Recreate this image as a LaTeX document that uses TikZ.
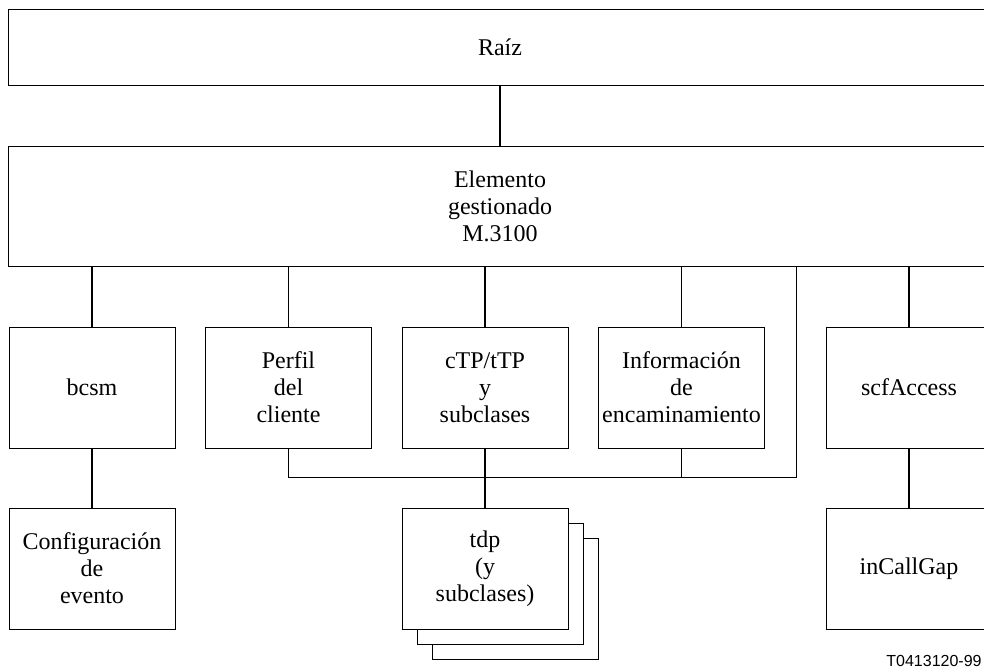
\documentclass[tikz,border=0pt]{standalone}
\usepackage{fontspec}
\setmainfont{Liberation Serif}
\newfontfamily\etiqfont{Liberation Sans}
\begin{document}
\begin{tikzpicture}[x=0.5pt, y=-0.5pt,
    caja/.style={draw, line width=0.5pt, fill=white, minimum width=83pt, minimum height=60.5pt,
                 inner sep=0pt, align=center, font=\fontsize{12}{13.5}\selectfont},
    ancha/.style={caja, minimum width=492pt},
    enlace/.style={line width=0.9pt},
    bus/.style={line width=0.5pt}]
  \useasboundingbox (0,0) rectangle (984,671);
  % cajas superiores
  \node[ancha, minimum height=38pt] (raiz) at (500,47) {Raíz};
  \node[ancha, minimum height=60pt] (elem) at (500,206) {Elemento\\gestionado\\M.3100};
  % primera fila
  \node[caja] (bcsm) at (92,387.5) {bcsm};
  \node[caja] (perfil) at (288.5,387.5) {Perfil\\del\\cliente};
  \node[caja] (ctp) at (485,387.5) {cTP/tTP\\y\\subclases};
  \node[caja] (info) at (681.5,387.5) {Información\\de\\encaminamiento};
  \node[caja] (scf) at (909,387.5) {scfAccess};
  % segunda fila
  \node[caja] (config) at (92,568.5) {Configuración\\de\\evento};
  \node[caja] (tdpc) at (515,598.5) {};
  \node[caja] (tdpb) at (500,583.5) {};
  \node[caja] (tdp) at (485,568.5) {tdp\\(y\\subclases)};
  \node[caja] (incall) at (909,568.5) {inCallGap};
  \node[anchor=east, inner sep=0pt, font=\etiqfont\fontsize{8}{10}\selectfont] (codigo) at (982,661) {T0413120-99};
  % enlaces
  \coordinate (busder) at (796,477);
  \draw[enlace] (raiz.south -| elem) -- (elem.north);
  \draw[enlace] (elem.south -| bcsm) -- (bcsm.north);
  \draw[bus] (elem.south -| perfil) -- (perfil.north);
  \draw[enlace] (elem.south -| ctp) -- (ctp.north);
  \draw[enlace] (elem.south -| info) -- (info.north);
  \draw[enlace] (elem.south -| scf) -- (scf.north);
  \draw[bus] (elem.south -| busder) -- (busder) -- (perfil.south |- busder) -- (perfil.south);
  \draw[enlace] (info.south) -- (info.south |- busder);
  \draw[enlace] (ctp.south) -- (tdp.north);
  \draw[enlace] (bcsm.south) -- (config.north);
  \draw[enlace] (scf.south) -- (incall.north);
\end{tikzpicture}
\end{document}
